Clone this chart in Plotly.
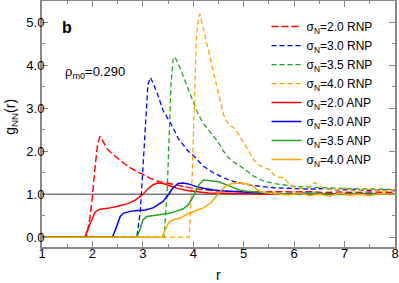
import plotly.graph_objects as go

# ---------------- data ----------------
rnp20_r = [1.0, 1.88, 1.95, 2.0, 2.05, 2.1, 2.15, 2.2, 2.3, 2.4, 2.55, 2.7, 2.85, 3.0, 3.15, 3.3, 3.5, 3.7, 3.9, 4.1, 4.3, 4.6, 4.8, 5.1, 5.4, 5.7, 6.0, 6.3, 6.6, 6.9, 7.2, 7.5, 7.8, 8.0]
rnp20_g = [0, 0, 0.45, 0.95, 1.6, 2.15, 2.35, 2.25, 2.05, 1.93, 1.78, 1.65, 1.55, 1.45, 1.37, 1.30, 1.25, 1.21, 1.16, 1.12, 1.09, 1.06, 1.07, 1.06, 1.05, 1.06, 1.05, 1.06, 1.04, 1.05, 1.04, 1.05, 1.04, 1.04]

rnp30_r = [1.0, 2.88, 2.95, 3.0, 3.05, 3.1, 3.15, 3.2, 3.3, 3.4, 3.5, 3.6, 3.7, 3.8, 3.9, 4.0, 4.2, 4.4, 4.6, 4.8, 5.0, 5.2, 5.4, 5.6, 5.8, 6.0, 6.3, 6.6, 6.9, 7.2, 7.5, 7.8, 8.0]
rnp30_g = [0, 0, 0.6, 1.6, 2.8, 3.55, 3.72, 3.6, 3.3, 2.95, 2.75, 2.55, 2.3, 2.15, 2.0, 1.9, 1.65, 1.5, 1.38, 1.3, 1.24, 1.2, 1.17, 1.15, 1.14, 1.13, 1.12, 1.13, 1.1, 1.11, 1.09, 1.1, 1.08]

rnp35_r = [1.0, 3.42, 3.48, 3.52, 3.56, 3.6, 3.63, 3.7, 3.8, 3.9, 4.0, 4.1, 4.2, 4.3, 4.4, 4.5, 4.6, 4.7, 4.8, 4.9, 5.0, 5.2, 5.4, 5.6, 5.8, 6.0, 6.2, 6.5, 6.8, 7.1, 7.4, 7.7, 8.0]
rnp35_g = [0, 0, 1.0, 2.4, 3.6, 4.15, 4.2, 4.05, 3.75, 3.45, 3.15, 2.85, 2.65, 2.5, 2.35, 2.2, 2.0, 1.85, 1.75, 1.68, 1.6, 1.42, 1.3, 1.25, 1.22, 1.18, 1.17, 1.15, 1.14, 1.13, 1.12, 1.12, 1.11]

rnp40_r = [1.0, 3.92, 3.98, 4.02, 4.06, 4.1, 4.13, 4.2, 4.3, 4.4, 4.5, 4.6, 4.7, 4.8, 4.9, 5.0, 5.1, 5.2, 5.3, 5.4, 5.5, 5.6, 5.7, 5.8, 5.9, 6.0, 6.1, 6.2, 6.3, 6.4, 6.5, 6.6, 6.8, 7.0, 7.2, 7.4, 7.6, 7.8, 8.0]
rnp40_g = [0, 0, 1.5, 3.2, 4.6, 5.1, 5.2, 4.85, 4.35, 3.8, 3.3, 2.85, 2.62, 2.55, 2.4, 2.2, 2.0, 1.8, 1.68, 1.62, 1.58, 1.45, 1.4, 1.38, 1.25, 1.17, 1.14, 1.13, 1.18, 1.27, 1.2, 1.12, 1.1, 1.14, 1.08, 1.12, 1.1, 1.08, 1.1]

anp20_r = [1.0, 1.85, 1.95, 2.05, 2.15, 2.3, 2.5, 2.7, 2.85, 3.0, 3.1, 3.2, 3.3, 3.4, 3.5, 3.7, 3.9, 4.1, 4.3, 4.6, 5.0, 5.4, 5.8, 6.2, 6.6, 7.0, 7.4, 7.8, 8.0]
anp20_g = [0, 0, 0.3, 0.58, 0.65, 0.67, 0.72, 0.78, 0.86, 1.0, 1.12, 1.22, 1.26, 1.25, 1.21, 1.13, 1.08, 1.05, 1.03, 1.02, 1.01, 1.0, 1.01, 1.0, 1.01, 0.99, 1.0, 1.01, 1.0]

anp30_r = [1.0, 2.4, 2.48, 2.55, 2.62, 2.75, 2.9, 3.05, 3.2, 3.3, 3.4, 3.5, 3.6, 3.7, 3.8, 3.9, 4.0, 4.2, 4.4, 4.7, 5.0, 5.4, 5.8, 6.2, 6.6, 7.0, 7.4, 7.8, 8.0]
anp30_g = [0, 0, 0.25, 0.48, 0.56, 0.6, 0.62, 0.63, 0.68, 0.75, 0.83, 0.98, 1.15, 1.25, 1.26, 1.24, 1.2, 1.14, 1.1, 1.07, 1.05, 1.02, 1.0, 1.02, 1.0, 1.01, 1.0, 1.0, 1.01]

anp35_r = [1.0, 2.88, 2.95, 3.0, 3.08, 3.2, 3.35, 3.5, 3.65, 3.8, 3.9, 4.0, 4.1, 4.2, 4.3, 4.5, 4.7, 4.9, 5.1, 5.3, 5.6, 6.0, 6.4, 6.8, 7.2, 7.6, 8.0]
anp35_g = [0, 0, 0.2, 0.4, 0.48, 0.5, 0.52, 0.55, 0.6, 0.66, 0.75, 0.95, 1.2, 1.33, 1.32, 1.29, 1.2, 1.1, 1.06, 1.04, 1.02, 1.0, 1.02, 0.99, 1.01, 1.0, 1.01]

anp40_r = [1.0, 3.38, 3.45, 3.52, 3.6, 3.75, 3.9, 4.05, 4.2, 4.35, 4.45, 4.55, 4.65, 4.8, 5.0, 5.15, 5.25, 5.35, 5.5, 5.7, 5.9, 6.1, 6.3, 6.5, 6.7, 6.9, 7.1, 7.3, 7.5, 7.7, 8.0]
anp40_g = [0, 0, 0.2, 0.35, 0.4, 0.45, 0.55, 0.62, 0.68, 0.8, 0.95, 1.08, 1.2, 1.26, 1.25, 1.22, 1.12, 1.05, 1.02, 1.0, 0.98, 1.03, 0.97, 1.0, 0.96, 1.02, 0.98, 1.0, 0.97, 1.01, 1.0]

series_names = ["σ<sub>N</sub>=2.0 RNP", "σ<sub>N</sub>=3.0 RNP", "σ<sub>N</sub>=3.5 RNP", "σ<sub>N</sub>=4.0 RNP",
                "σ<sub>N</sub>=2.0 ANP", "σ<sub>N</sub>=3.0 ANP", "σ<sub>N</sub>=3.5 ANP", "σ<sub>N</sub>=4.0 ANP"]
series_r = [rnp20_r, rnp30_r, rnp35_r, rnp40_r, anp20_r, anp30_r, anp35_r, anp40_r]
series_g = [rnp20_g, rnp30_g, rnp35_g, rnp40_g, anp20_g, anp30_g, anp35_g, anp40_g]

x_ticks = [1, 2, 3, 4, 5, 6, 7, 8]
y_ticks = [0, 1, 2, 3, 4, 5]
ref_level = 1.0
panel_label = "<b>b</b>"
density_label = "ρ<sub>m0</sub>=0.290"
x_title = "r"
y_title = "g<sub>NN</sub>(r)"

# ---------------- styles ----------------
colors = ["#ff0000", "#0000ff", "#1fa51f", "#ffa500"] * 2
dashes = ["7px,3px", "5px,3px", "5px,3px", "5px,3px", "solid", "solid", "solid", "solid"]
widths = [1.4, 1.3, 1.3, 1.3, 1.5, 1.5, 1.5, 1.5]

FONT = "Liberation Sans, Arial, Helvetica, sans-serif"

fig = go.Figure()
for name, r, g, c, d, w in zip(series_names, series_r, series_g, colors, dashes, widths):
    fig.add_trace(go.Scatter(x=r, y=g, mode="lines", name=name,
                             line=dict(color=c, dash=d, width=w)))

fig.add_shape(type="line", xref="paper", x0=0, x1=1, yref="y", y0=ref_level, y1=ref_level,
              line=dict(color="#333333", width=1), layer="below")

fig.add_annotation(x=1.36, y=4.88, xref="x", yref="y", text=panel_label, showarrow=False,
                   xanchor="left", yanchor="middle", font=dict(family=FONT, size=16, color="black"))
fig.add_annotation(x=1.41, y=3.84, xref="x", yref="y", text=density_label, showarrow=False,
                   xanchor="left", yanchor="middle", font=dict(family=FONT, size=13, color="black"))
# axis titles
fig.add_annotation(x=0.5, y=-0.115, xref="paper", yref="paper", text=x_title, showarrow=False,
                   xanchor="center", yanchor="middle", font=dict(family=FONT, size=14, color="black"))
fig.add_annotation(x=-0.09, y=0.53, xref="paper", yref="paper", text=y_title, showarrow=False,
                   textangle=-90, xanchor="center", yanchor="middle",
                   font=dict(family=FONT, size=14, color="black"))

axis_common = dict(showline=True, linecolor="#888888", linewidth=2, mirror="allticks",
                   ticks="inside", tickcolor="#888888", tickwidth=1, ticklen=6,
                   showgrid=False, zeroline=False, automargin=False,
                   ticklabelstandoff=-7,
                   tickfont=dict(family=FONT, size=13, color="black"))

fig.update_xaxes(range=[1, 8], tickvals=x_ticks, ticktext=[str(v) for v in x_ticks],
                 minor=dict(ticks="inside", ticklen=3, tickcolor="#888888", dtick=0.5, showgrid=False),
                 **axis_common)
fig.update_yaxes(range=[-0.23, 5.5], tickvals=y_ticks, ticktext=[f"{v:.1f}" for v in y_ticks],
                 minor=dict(ticks="inside", ticklen=3, tickcolor="#888888", dtick=0.5, showgrid=False),
                 **axis_common)

fig.update_layout(
    width=399, height=283,
    margin=dict(l=42, r=4, t=1, b=36, autoexpand=False),
    paper_bgcolor="white", plot_bgcolor="white",
    showlegend=True,
    legend=dict(x=0.636, y=0.955, xanchor="left", yanchor="top", bgcolor="rgba(0,0,0,0)",
                font=dict(family=FONT, size=12, color="black"), itemwidth=30,
                tracegroupgap=0),
)

fig.write_html("out.html", config={"displayModeBar": False},
               post_script="document.body.style.margin='0px';")
